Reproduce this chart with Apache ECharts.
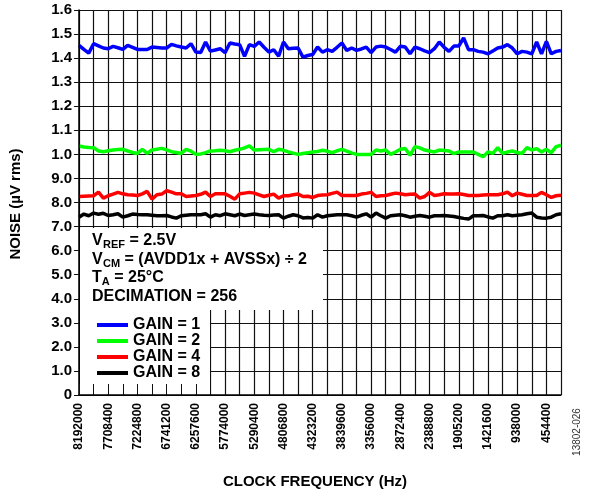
<!DOCTYPE html>
<html>
<head>
<meta charset="utf-8">
<script src="https://cdn.jsdelivr.net/npm/echarts@6/dist/echarts.min.js"></script>
<style>html,body{margin:0;padding:0;background:#fff;}#c{width:589px;height:495px;}</style>
</head>
<body>
<div id="c"></div>
<script>
// Clock frequency (Hz) categories
const freqs = [8192000,8111400,8030800,7950200,7869600,7789000,7708400,7627800,7547200,7466600,
7386000,7305400,7224800,7144200,7063600,6983000,6902400,6821800,6741200,6660600,
6580000,6499400,6418800,6338200,6257600,6177000,6096400,6015800,5935200,5854600,
5774000,5693400,5612800,5532200,5451600,5371000,5290400,5209800,5129200,5048600,
4968000,4887400,4806800,4726200,4645600,4565000,4484400,4403800,4323200,4242600,
4162000,4081400,4000800,3920200,3839600,3759000,3678400,3597800,3517200,3436600,
3356000,3275400,3194800,3114200,3033600,2953000,2872400,2791800,2711200,2630600,
2550000,2469400,2388800,2308200,2227600,2147000,2066400,1985800,1905200,1824600,
1744000,1663400,1582800,1502200,1421600,1341000,1260400,1179800,1099200,1018600,
938000,857400,776800,696200,615600,535000,454400,373800,293200,212600];

// Y tick labels (axis position 0..16)
const yTickLabels = ['0','1.0','2.0','3.0','4.0','5.0','6.0','7.0','8.0','9.0','1.0','1.1','1.2','1.3','1.4','1.5','1.6'];

// Series values in axis-position units
const gain1 = [14.53,14.36,14.21,14.60,14.51,14.42,14.39,14.49,14.43,14.36,
14.53,14.45,14.36,14.36,14.36,14.46,14.44,14.42,14.42,14.57,
14.51,14.46,14.42,14.60,14.25,14.23,14.67,14.29,14.34,14.39,
14.23,14.63,14.59,14.56,14.07,14.56,14.49,14.67,14.45,14.25,
14.35,14.08,14.67,14.39,14.41,14.42,14.04,14.11,14.15,14.46,
14.25,14.35,14.28,14.45,14.63,14.32,14.42,14.32,14.38,14.46,
14.23,14.46,14.50,14.46,14.36,14.25,14.49,14.46,14.18,14.46,
14.39,14.30,14.23,14.39,14.67,14.45,14.28,14.50,14.50,14.84,
14.35,14.35,14.28,14.25,14.18,14.30,14.42,14.46,14.56,14.42,
14.18,14.28,14.25,14.18,14.67,14.18,14.70,14.18,14.28,14.32];

const gain2 = [10.35,10.31,10.29,10.28,10.14,10.11,10.15,10.18,10.20,10.21,
10.14,10.08,10.04,10.21,10.04,10.18,10.21,10.25,10.19,10.11,
10.08,10.04,10.21,10.13,10.00,10.02,10.07,10.14,10.15,10.17,
10.15,10.11,10.17,10.21,10.27,10.35,10.18,10.19,10.20,10.21,
10.11,10.21,10.17,10.10,10.05,10.00,10.04,10.07,10.10,10.12,
10.17,10.13,10.07,10.15,10.21,10.13,10.06,10.00,10.00,10.00,
10.00,10.18,10.14,10.18,10.00,10.10,10.21,10.24,9.96,10.32,
10.27,10.18,10.14,10.10,10.18,10.16,10.14,10.03,10.10,10.10,
10.10,10.10,10.00,9.90,10.10,10.04,10.28,10.04,10.10,10.14,
10.08,10.04,10.28,10.18,10.24,10.10,10.21,10.07,10.32,10.38];

const gain4 = [8.25,8.26,8.27,8.28,8.43,8.18,8.28,8.35,8.42,8.36,
8.32,8.31,8.29,8.36,8.46,8.14,8.32,8.35,8.49,8.43,
8.36,8.36,8.25,8.27,8.29,8.34,8.43,8.25,8.36,8.36,
8.36,8.26,8.14,8.36,8.39,8.42,8.39,8.32,8.25,8.30,
8.35,8.18,8.28,8.28,8.32,8.35,8.25,8.26,8.21,8.29,
8.31,8.32,8.38,8.43,8.29,8.29,8.29,8.29,8.35,8.38,
8.42,8.25,8.28,8.29,8.34,8.39,8.36,8.32,8.34,8.35,
8.18,8.25,8.42,8.29,8.32,8.36,8.35,8.35,8.36,8.33,
8.29,8.29,8.29,8.31,8.32,8.32,8.32,8.36,8.43,8.28,
8.39,8.34,8.29,8.29,8.29,8.42,8.32,8.21,8.28,8.30];

const gain8 = [7.39,7.52,7.45,7.56,7.51,7.55,7.46,7.49,7.53,7.39,
7.45,7.52,7.50,7.49,7.49,7.47,7.45,7.45,7.46,7.40,
7.35,7.45,7.47,7.49,7.49,7.49,7.53,7.39,7.49,7.45,
7.53,7.49,7.45,7.52,7.46,7.49,7.52,7.49,7.47,7.46,
7.48,7.49,7.35,7.43,7.49,7.45,7.36,7.38,7.35,7.49,
7.39,7.45,7.47,7.49,7.49,7.49,7.45,7.39,7.47,7.53,
7.39,7.56,7.45,7.35,7.45,7.47,7.49,7.45,7.39,7.43,
7.46,7.43,7.39,7.45,7.45,7.46,7.44,7.42,7.38,7.34,
7.31,7.45,7.45,7.46,7.40,7.35,7.45,7.45,7.49,7.45,
7.47,7.49,7.53,7.56,7.39,7.36,7.35,7.39,7.49,7.53];

const seriesNames = ['GAIN = 1','GAIN = 2','GAIN = 4','GAIN = 8'];
const seriesColors = ['#0000ff','#00ff00','#ff0000','#000000'];
const seriesData = [gain1, gain2, gain4, gain8];

const FONT = '"Liberation Sans", Arial, sans-serif';
const chart = echarts.init(document.getElementById('c'), null, {renderer: 'canvas'});

const baseX = {type: 'category', data: freqs, boundaryGap: false, gridIndex: 0, position: 'bottom'};
const baseY = {type: 'value', min: 0, max: 16, interval: 1, gridIndex: 0, position: 'left'};

function txt(text, x, y, size, extra) {
  return Object.assign({type: 'text', z: 8, x: x, y: y, style: {
    text: text, fill: '#000', align: 'left', verticalAlign: 'middle',
    font: 'bold ' + size + 'px ' + FONT
  }}, extra || {});
}

const MAIN = 16, SUB = 11, SUBDY = 4.5;
const L1 = 240.5, L2 = 259.2, L3 = 277.9, L4 = 296.6;

const option = {
  animation: false,
  backgroundColor: '#ffffff',
  grid: {left: 79, top: 10, right: 28, bottom: 100, containLabel: false},
  xAxis: [
    Object.assign({}, baseX, {
      z: 0,
      axisLine: {show: false}, axisTick: {show: false}, axisLabel: {show: false},
      splitLine: {show: true, interval: 2, lineStyle: {color: '#111', width: 1.2}}
    }),
    Object.assign({}, baseX, {
      z: 5,
      axisLine: {show: true, lineStyle: {color: '#000', width: 1.5}},
      axisTick: {show: true, inside: true, length: 11, interval: 2, lineStyle: {color: '#111', width: 1}},
      axisLabel: {show: true, interval: 5, rotate: 90, margin: 8, color: '#000',
        fontFamily: FONT, fontWeight: 'bold', fontSize: 12},
      splitLine: {show: false}
    })
  ],
  yAxis: [
    Object.assign({}, baseY, {
      z: 0,
      axisLine: {show: false}, axisTick: {show: false}, axisLabel: {show: false},
      splitLine: {show: true, lineStyle: {color: '#111', width: 1.2}}
    }),
    Object.assign({}, baseY, {
      z: 5,
      axisLine: {show: true, lineStyle: {color: '#000', width: 1.5}},
      axisTick: {show: true, inside: false, length: 5, lineStyle: {color: '#111', width: 1}},
      axisLabel: {show: true, margin: 7, color: '#000', fontFamily: FONT, fontWeight: 'bold', fontSize: 15,
        formatter: function (v) { return yTickLabels[Math.round(v)]; }},
      splitLine: {show: false}
    })
  ],
  legend: {
    show: true, orient: 'vertical', left: 92, top: 312, itemGap: 0,
    itemWidth: 31, itemHeight: 4, icon: 'rect', z: 8,
    textStyle: {fontFamily: FONT, fontWeight: 'bold', fontSize: 16, color: '#000', lineHeight: 15.6},
    data: seriesNames
  },
  series: seriesNames.map(function (n, i) {
    return {
      name: n, type: 'line', xAxisIndex: 0, yAxisIndex: 0, data: seriesData[i],
      showSymbol: false, symbol: 'none', z: 3,
      lineStyle: {color: seriesColors[i], width: 3.5}, itemStyle: {color: seriesColors[i]}
    };
  }),
  graphic: [
    {type: 'rect', z: 1, shape: {x: 80, y: 228, width: 243, height: 82}, style: {fill: '#fff'}},
    {type: 'rect', z: 1, shape: {x: 80, y: 309, width: 130, height: 85}, style: {fill: '#fff'}},
    txt('V', 92, L1, MAIN), txt('REF', 103, L1 + SUBDY, SUB), txt(' = 2.5V', 125, L1, MAIN),
    txt('V', 92, L2, MAIN), txt('CM', 103, L2 + SUBDY, SUB), txt(' = (AVDD1x + AVSSx) ÷ 2', 120, L2, MAIN),
    txt('T', 92, L3, MAIN), txt('A', 101.8, L3 + SUBDY, SUB), txt(' = 25°C', 109.8, L3, MAIN),
    txt('DECIMATION = 256', 92, L4, MAIN),
    {type: 'text', z: 8, x: 16, y: 204, rotation: Math.PI / 2, style: {
      text: 'NOISE (µV rms)', fill: '#000', align: 'center', verticalAlign: 'middle',
      font: 'bold 15px ' + FONT
    }},
    {type: 'text', z: 8, x: 315, y: 482, style: {
      text: 'CLOCK FREQUENCY (Hz)', fill: '#000', align: 'center', verticalAlign: 'middle',
      font: 'bold 15px ' + FONT
    }},
    {type: 'text', z: 8, x: 577, y: 432, rotation: Math.PI / 2, style: {
      text: '13802-026', fill: '#333', align: 'center', verticalAlign: 'middle',
      font: '10px ' + FONT
    }}
  ]
};
chart.setOption(option);
</script>
</body>
</html>
